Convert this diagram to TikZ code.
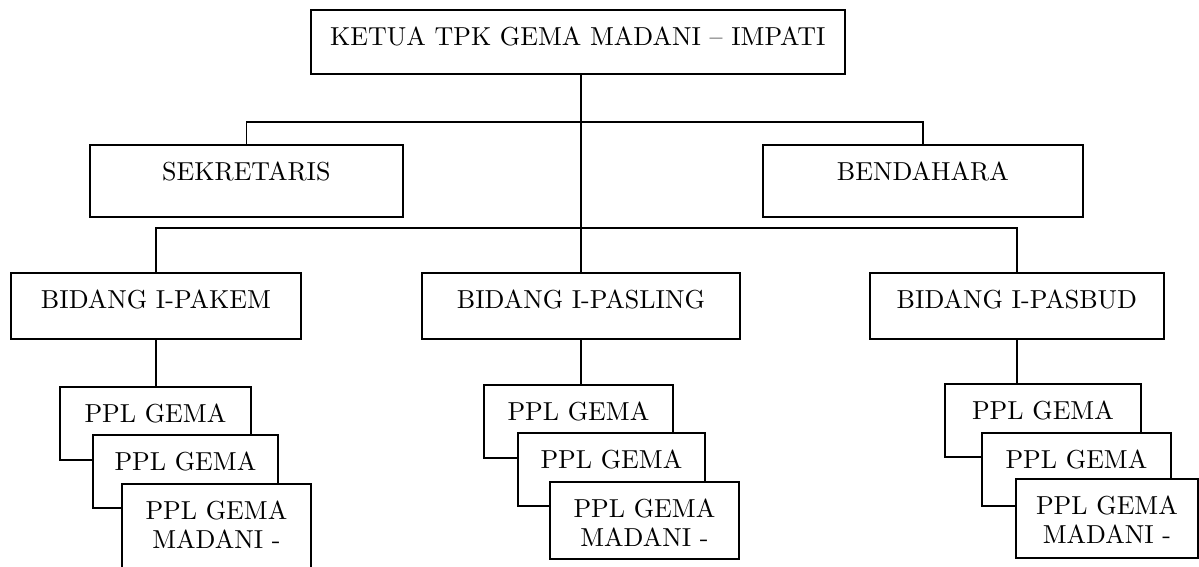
\documentclass[tikz,border=0pt]{standalone}
\usepackage{fontspec}
\setmainfont{lmroman10-regular}[Extension=.otf]
\usepackage{tikz}
\usetikzlibrary{positioning}

\begin{document}
\begin{tikzpicture}[x=1pt, y=-1pt,
                  box/.style={draw, fill=white, line width=1.8pt, inner sep=0pt, anchor=north west,
                              align=center, font=\fontsize{26}{29}\selectfont, text height=18pt},
                  link/.style={line width=1.8pt},
            ]
            \useasboundingbox (0,0) rectangle (1199,566);

            % Ketua
            \node[box, text width=534pt, minimum height=64pt, text depth=10pt] (ketua) at (310,9)
            {KETUA TPK GEMA MADANI \textendash{} IMPATI};

            % Sekretaris and bendahara
            \node[box, text width=313pt, minimum height=72pt, text depth=18pt] (sekr) at (89,144) {SEKRETARIS};
            \node[box, text width=320pt, minimum height=72pt, text depth=18pt] (bend) at (762,144) {BENDAHARA};

            % Bidang boxes
            \foreach \i/\lab/\x/\w in {1/PAKEM/10/290, 2/PASLING/421/318, 3/PASBUD/869/294}{
                  \node[box, text width=\w pt, minimum height=66pt, text depth=12pt] (bid\i) at (\x,272) {BIDANG I-\lab};
                  }

            % Stacked PPL boxes under each bidang
            \foreach \g/\xa/\ya/\wa/\xb/\yb/\wb/\xc/\yc/\wc/\hc/\dc in {
                  a/59/386/191/92/434/185/121/483/189/95/41,
                  b/483/384/189/517/432/187/549/481/189/77/23,
                  c/944/383/196/981/432/189/1015/478/182/79/25}{
                  \node[box, text width=\wa pt, minimum height=73pt, text depth=19pt] (\g1) at (\xa,\ya) {PPL GEMA};
                  \node[box, text width=\wb pt, minimum height=73pt, text depth=19pt] (\g2) at (\xb,\yb) {PPL GEMA};
                  \node[box, text width=\wc pt, minimum height=\hc pt, text depth=\dc pt] (\g3) at (\xc,\yc)
                  {PPL GEMA\\MADANI -};
                  }

            % Connectors
            \coordinate (j1) at (579,122);
            \coordinate (j2) at (579,228);
            \draw[link] (ketua.south -| bid2.north) -- (bid2.north);
            \draw[link] (sekr.north) |- (j1) -| (bend.north);
            \draw[link] (bid1.north) |- (j2) -| (bid3.north);
            \foreach \b/\p in {bid1/a1, bid2/b1, bid3/c1}{
                  \draw[link] (\b.south) -- (\b.south |- \p.north);
                  }
      \end{tikzpicture}
\end{document}
